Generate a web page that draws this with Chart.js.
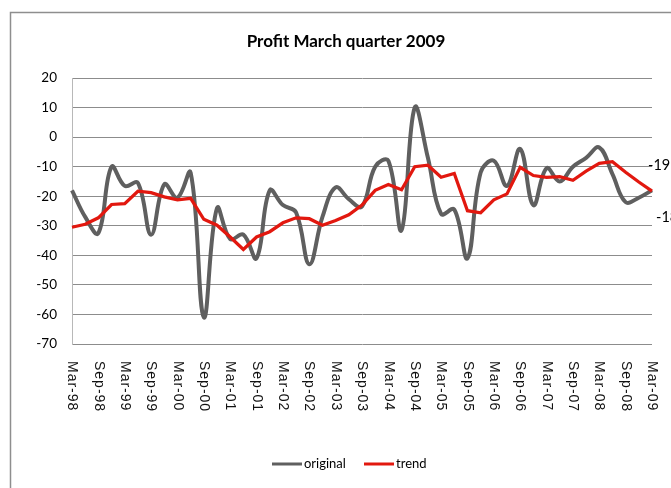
<!DOCTYPE html>
<html>
<head>
<meta charset="utf-8">
<script src="https://cdn.jsdelivr.net/npm/chart.js@4.4.1/dist/chart.umd.min.js"></script>
<style>
  html, body { margin: 0; padding: 0; background: #ffffff; }
  #wrap { width: 671px; height: 488px; position: relative; }
</style>
</head>
<body>
<div id="wrap"><canvas id="c" width="671" height="488"></canvas></div>
<script>
const chartTitle = "Profit March quarter 2009";

const categories = [
  "Mar-98","Jun-98","Sep-98","Dec-98",
  "Mar-99","Jun-99","Sep-99","Dec-99",
  "Mar-00","Jun-00","Sep-00","Dec-00",
  "Mar-01","Jun-01","Sep-01","Dec-01",
  "Mar-02","Jun-02","Sep-02","Dec-02",
  "Mar-03","Jun-03","Sep-03","Dec-03",
  "Mar-04","Jun-04","Sep-04","Dec-04",
  "Mar-05","Jun-05","Sep-05","Dec-05",
  "Mar-06","Jun-06","Sep-06","Dec-06",
  "Mar-07","Jun-07","Sep-07","Dec-07",
  "Mar-08","Jun-08","Sep-08","Dec-08",
  "Mar-09"
];

const originalValues = [
  -18, -27, -32.5, -10,
  -16.5, -15.5, -33, -16,
  -20.5, -12, -61, -24,
  -34.5, -33, -41, -18,
  -23, -25.5, -43, -27,
  -17, -21, -23.5, -10,
  -8, -31.5, 10, -7,
  -26, -24.5, -41, -12,
  -8, -16.5, -4, -23,
  -10.5, -15, -10, -7,
  -3.5, -12.5, -22, -20.5,
  -18
];

const trendValues = [
  -30.5, -29.5, -27.3, -22.8,
  -22.5, -18.3, -18.8, -20.2,
  -21.2, -20.7, -27.8, -29.8,
  -33.8, -38, -33.8, -32,
  -29, -27.3, -27.6, -29.8,
  -28.2, -26.3, -23, -18,
  -16, -17.8, -10, -9.5,
  -13.6, -12.3, -24.9, -25.6,
  -21.2, -19.2, -10.2, -13,
  -13.6, -13.4, -14.6, -11.5,
  -8.9, -8.3, -11.9, -15.2,
  -18.3
];

const seriesNames = ["original", "trend"];
const seriesColors = ["#5f5f5f", "#e2180f"];
const endLabels = ["-18", "-19"];

const yMin = -70, yMax = 20, yStep = 10;

const decor = {
  id: "decor",
  beforeDraw(chart) {
    const ctx = chart.ctx;
    ctx.save();
    ctx.fillStyle = "#ffffff";
    ctx.fillRect(0, 0, chart.width, chart.height);
    ctx.strokeStyle = "#8e8e8e";
    ctx.lineWidth = 1.5;
    ctx.strokeRect(10.5, 12.5, 900, 700);
    ctx.restore();
  },
  afterDraw(chart) {
    const ctx = chart.ctx;
    const xs = chart.scales.x;
    const area = chart.chartArea;
    ctx.save();

    // Title
    ctx.fillStyle = "#000000";
    ctx.font = "bold 17px Lato";
    ctx.textAlign = "center";
    ctx.textBaseline = "middle";
    ctx.fillText(chartTitle, 346, 42);

    // X labels (every other quarter), rotated to read top-to-bottom
    ctx.font = "14px 'Liberation Sans'";
    ctx.fillStyle = "#111111";
    try { ctx.letterSpacing = "1px"; } catch (e) {}
    categories.forEach((lab, i) => {
      if (i % 2 !== 0) return;
      const x = xs.getPixelForValue(i);
      ctx.save();
      ctx.translate(x, area.bottom + 17);
      ctx.rotate(Math.PI / 2);
      ctx.textAlign = "left";
      ctx.textBaseline = "middle";
      ctx.fillText(lab, 0, 0);
      ctx.restore();
    });
    try { ctx.letterSpacing = "0px"; } catch (e) {}

    // End labels
    ctx.font = "14.5px Lato";
    ctx.fillStyle = "#000000";
    ctx.textAlign = "left";
    ctx.textBaseline = "middle";
    ctx.fillText(endLabels[1], area.right - 4, 165);
    ctx.fillText(endLabels[0], area.right + 4, 217);

    // Legend
    const ly = 464;
    ctx.font = "13px Lato";
    ctx.textBaseline = "middle";
    ctx.lineWidth = 3;
    let lx = 272;
    seriesNames.forEach((name, k) => {
      ctx.strokeStyle = seriesColors[k];
      ctx.beginPath();
      ctx.moveTo(lx, ly);
      ctx.lineTo(lx + 30, ly);
      ctx.stroke();
      ctx.fillStyle = "#000000";
      ctx.fillText(name, lx + 32, ly);
      lx += 92;
    });
    ctx.restore();
  }
};

new Chart(document.getElementById("c"), {
  type: "line",
  data: {
    labels: categories,
    datasets: [
      {
        label: seriesNames[0],
        data: originalValues,
        borderColor: seriesColors[0],
        backgroundColor: seriesColors[0],
        borderWidth: 4,
        tension: 0.4,
        pointRadius: 0,
        fill: false,
        order: 1
      },
      {
        label: seriesNames[1],
        data: trendValues,
        borderColor: seriesColors[1],
        backgroundColor: seriesColors[1],
        borderWidth: 3.25,
        tension: 0,
        pointRadius: 0,
        fill: false,
        order: 0
      }
    ]
  },
  options: {
    responsive: false,
    devicePixelRatio: 1,
    animation: false,
    layout: {
      autoPadding: false,
      padding: { top: 78, left: 0, right: 19, bottom: 136 }
    },
    plugins: {
      legend: { display: false },
      title: { display: false },
      tooltip: { enabled: false }
    },
    scales: {
      x: {
        type: "category",
        offset: false,
        grid: { display: false },
        border: { display: false },
        ticks: { display: false }
      },
      y: {
        min: yMin,
        max: yMax,
        afterFit(scale) { scale.width = 72; },
        ticks: {
          stepSize: yStep,
          padding: 15,
          color: "#000000",
          font: { family: "Lato", size: 13.5 }
        },
        grid: { color: "#8c8c8c", lineWidth: 1, drawTicks: false },
        border: { display: true, color: "#b8b8b8", width: 1 }
      }
    }
  },
  plugins: [decor]
});
</script>
</body>
</html>
